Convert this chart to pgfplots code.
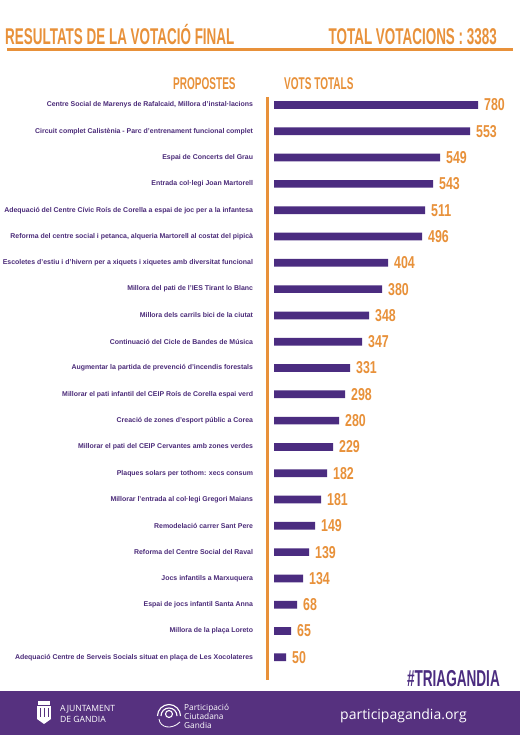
\documentclass[border=0pt]{standalone}
\usepackage{fontspec}
\usepackage{pgfplots}
\pgfplotsset{compat=1.18}
\setmainfont{Liberation Sans}
\newfontfamily\headfont[FakeStretch=0.59]{Liberation Sans}
\newfontfamily\numfont[FakeStretch=0.72]{Liberation Sans}
\newfontfamily\osans{Open Sans}
\definecolor{orangeT}{HTML}{E8913A}
\definecolor{barpurple}{HTML}{4B2C80}
\definecolor{labpurple}{HTML}{4A2A78}
\definecolor{band}{HTML}{56317F}
\begin{document}
\begin{tikzpicture}[x=1pt,y=1pt]
\path[use as bounding box, fill=white] (0,0) rectangle (520,735);
% header
\node[anchor=base west, inner sep=0, text=orangeT] at (5,690) {\headfont\bfseries\fontsize{22.8}{22.8}\selectfont RESULTATS DE LA VOTACIÓ FINAL};
\node[anchor=base east, inner sep=0, text=orangeT] at (497,690) {\headfont\bfseries\fontsize{22.8}{22.8}\selectfont TOTAL VOTACIONS : 3383};
\draw[orangeT, line width=3pt] (7,685) -- (513,685);
\node[anchor=base west, inner sep=0, text=orangeT] at (173,645) {\headfont\bfseries\fontsize{17}{17}\selectfont PROPOSTES};
\node[anchor=base west, inner sep=0, text=orangeT] at (284,645) {\headfont\bfseries\fontsize{17}{17}\selectfont VOTS TOTALS};
\draw[orangeT, line width=3pt] (267,638) -- (267,55);
\begin{axis}[
  at={(274pt,64.55pt)}, anchor=south west,
  scale only axis, width=240pt, height=578.6pt,
  xmin=0, xmax=240, ymin=-0.5, ymax=21.5,
  y dir=reverse,
  xbar, bar width=7.7pt,
  axis line style={draw=none}, tick style={draw=none},
  xtick=\empty,
  ytick={0,...,21},
  yticklabels={
    {Centre Social de Marenys de Rafalcaid, Millora d’instal·lacions},
    {Circuit complet Calistènia - Parc d’entrenament funcional complet},
    {Espai de Concerts del Grau},
    {Entrada col·legi Joan Martorell},
    {Adequació del Centre Cívic Roís de Corella a espai de joc per a la infantesa},
    {Reforma del centre social i petanca, alqueria Martorell al costat del pipicà},
    {Escoletes d’estiu i d’hivern per a xiquets i xiquetes amb diversitat funcional},
    {Millora del pati de l’IES Tirant lo Blanc},
    {Millora dels carrils bici de la ciutat},
    {Continuació del Cicle de Bandes de Música},
    {Augmentar la partida de prevenció d’incendis forestals},
    {Millorar el pati infantil del CEIP Roís de Corella espai verd},
    {Creació de zones d’esport públic a Corea},
    {Millorar el pati del CEIP Cervantes amb zones verdes},
    {Plaques solars per tothom: xecs consum},
    {Millorar l’entrada al col·legi Gregori Maians},
    {Remodelació carrer Sant Pere},
    {Reforma del Centre Social del Raval},
    {Jocs infantils a Marxuquera},
    {Espai de jocs infantil Santa Anna},
    {Millora de la plaça Loreto},
    {Adequació Centre de Serveis Socials situat en plaça de Les Xocolateres}},
  yticklabel style={font=\bfseries\fontsize{6.95}{8}\selectfont, text=labpurple, anchor=east, inner sep=0pt, xshift=-16.5pt},
  point meta=explicit symbolic,
  nodes near coords={\numfont\bfseries\fontsize{17.2}{17.2}\selectfont\pgfplotspointmeta},
  nodes near coords style={text=orangeT, anchor=west, inner sep=0pt, xshift=6pt},
  clip=false,
]
\addplot[fill=barpurple, draw=none] coordinates {
 (204,0) [780]
 (196,1) [553]
 (166,2) [549]
 (159,3) [543]
 (151,4) [511]
 (148,5) [496]
 (114,6) [404]
 (108,7) [380]
 (95,8) [348]
 (88,9) [347]
 (76,10) [331]
 (71,11) [298]
 (65,12) [280]
 (59,13) [229]
 (53,14) [182]
 (47,15) [181]
 (41,16) [149]
 (35,17) [139]
 (29,18) [134]
 (23,19) [68]
 (17,20) [65]
 (12,21) [50]
};
\end{axis}
% hashtag
\node[anchor=base east, inner sep=0, text=barpurple] at (500,48) {\headfont\bfseries\fontsize{23}{23}\selectfont \#TRIAGANDIA};
% footer band
\fill[band] (0,0) rectangle (520,44);
% Ajuntament logo (simplified)
\fill[white] (38,30) rectangle (50,34);
\fill[white] (37,16) rectangle (51,29);
\fill[white] (37,16) -- (51,16) -- (44,11) -- cycle;
\draw[band, line width=0.8pt] (40,27) -- (40,18) (44,27) -- (44,18) (48,27) -- (48,18);
\node[anchor=base west, inner sep=0, text=white] at (60,23.5) {\osans\fontsize{8.6}{9}\selectfont AJUNTAMENT};
\node[anchor=base west, inner sep=0, text=white] at (60,12.5) {\osans\fontsize{8.6}{9}\selectfont DE GANDIA};
% Participacio logo (simplified)
\draw[white, line width=1.1pt] (169,21) circle (3.5);
\draw[white, line width=1.1pt] (161,19) arc[start angle=180, end angle=0, radius=8];
\draw[white, line width=1.1pt] (157.5,19) arc[start angle=180, end angle=0, radius=11.5];
\draw[white, line width=0.8pt] (159,16) .. controls (160,7) and (172,5) .. (180,13);
\node[anchor=base west, inner sep=0, text=white] at (184,24.5) {\osans\fontsize{8.3}{9}\selectfont Participació};
\node[anchor=base west, inner sep=0, text=white] at (184,15.5) {\osans\fontsize{8.3}{9}\selectfont Ciutadana};
\node[anchor=base west, inner sep=0, text=white] at (184,6.5) {\osans\fontsize{8.3}{9}\selectfont Gandia};
\node[anchor=base west, inner sep=0, text=white] at (340,15) {\osans\fontsize{14}{14}\selectfont participagandia.org};
\end{tikzpicture}
\end{document}
